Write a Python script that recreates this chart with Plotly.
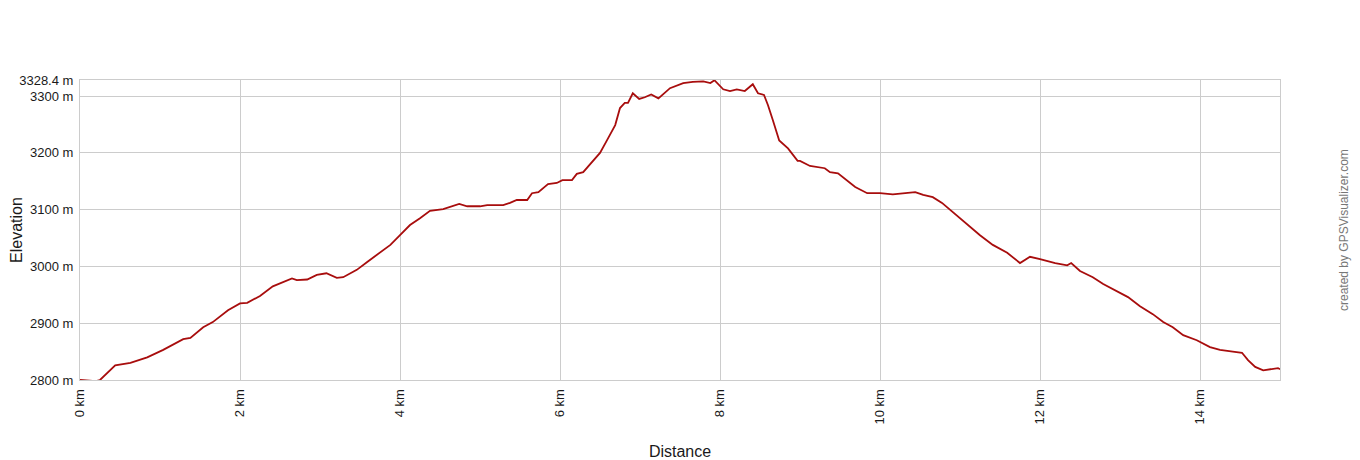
import plotly.graph_objects as go

distance_km = [
    0.0, 0.1, 0.2, 0.25, 0.44, 0.63, 0.84, 1.04, 1.29, 1.38, 1.54, 1.66, 1.85,
    2.0, 2.09, 2.25, 2.41, 2.65, 2.71, 2.84, 2.96, 3.08, 3.21, 3.29, 3.46,
    3.59, 3.66, 3.88, 4.0, 4.125, 4.25, 4.375, 4.54, 4.66, 4.74, 4.84, 5.0,
    5.09, 5.29, 5.375, 5.46, 5.59, 5.65, 5.73, 5.85, 5.96, 6.03, 6.15, 6.21,
    6.29, 6.4, 6.5, 6.59, 6.69, 6.75, 6.81, 6.85, 6.91, 6.99, 7.06, 7.14,
    7.23, 7.375, 7.54, 7.66, 7.73, 7.79, 7.88, 7.93, 8.04, 8.125, 8.21, 8.31,
    8.41, 8.475, 8.55, 8.6, 8.66, 8.74, 8.85, 8.97, 9.0, 9.125, 9.31, 9.375,
    9.475, 9.59, 9.69, 9.84, 10.0, 10.16, 10.34, 10.44, 10.54, 10.66, 10.775,
    10.91, 11.1, 11.25, 11.41, 11.59, 11.75, 11.875, 12.0, 12.19, 12.34,
    12.39, 12.5, 12.66, 12.79, 12.94, 13.1, 13.25, 13.41, 13.54, 13.66,
    13.79, 13.96, 14.125, 14.25, 14.41, 14.525, 14.6, 14.69, 14.79, 14.9,
    14.975, 15.0,
]
elevation_m = [
    2800, 2799, 2798, 2800, 2826, 2830, 2840, 2853, 2872, 2874, 2893, 2902,
    2923, 2935, 2936, 2948, 2965, 2979, 2976, 2977, 2985, 2988, 2980, 2981,
    2994, 3008, 3015, 3038, 3055, 3073, 3085, 3098, 3101, 3106, 3110, 3106,
    3106, 3108, 3108, 3112, 3117, 3117, 3129, 3131, 3145, 3147, 3152, 3152,
    3163, 3166, 3184, 3200, 3223, 3249, 3279, 3288, 3288, 3305, 3295, 3298,
    3303, 3296, 3314, 3323, 3325, 3326, 3326, 3323, 3328, 3312, 3309, 3312,
    3309, 3321, 3305, 3302, 3284, 3258, 3222, 3208, 3186, 3186, 3177, 3173,
    3166, 3164, 3152, 3140, 3129, 3129, 3127, 3129, 3131, 3126, 3122, 3112,
    3096, 3073, 3055, 3038, 3024, 3006, 3017, 3013, 3006, 3002, 3006, 2992,
    2981, 2969, 2958, 2946, 2930, 2916, 2902, 2893, 2879, 2870, 2858, 2853,
    2850, 2848, 2835, 2823, 2817, 2819, 2821, 2819,
]

y_tick_vals = [2800, 2900, 3000, 3100, 3200, 3300, 3328.4]
y_tick_text = ["2800 m", "2900 m", "3000 m", "3100 m", "3200 m", "3300 m", "3328.4 m"]
x_tick_vals = [0, 2, 4, 6, 8, 10, 12, 14]
x_tick_text = ["0 km", "2 km", "4 km", "6 km", "8 km", "10 km", "12 km", "14 km"]

FONT = "Liberation Sans, Arial, sans-serif"
GRID = "#cccccc"
TEXT = "#1a1a1a"

fig = go.Figure()
fig.add_trace(go.Scatter(
    x=distance_km, y=elevation_m, mode="lines",
    line=dict(color="#a80d0d", width=1.8),
    hoverinfo="x+y",
))

# The page body has an 8px default margin, so the figure is a bit smaller
fig.update_layout(
    width=1352, height=452,
    margin=dict(l=72, r=80, t=72, b=80),
    paper_bgcolor="white", plot_bgcolor="white",
    showlegend=False,
    font=dict(family=FONT, size=13, color=TEXT),
    xaxis=dict(
        range=[0, 15], tickvals=x_tick_vals, ticktext=x_tick_text,
        tickangle=-90, showgrid=True, gridcolor=GRID, gridwidth=1,
        showline=True, linecolor=GRID, linewidth=1, mirror=True,
        zeroline=False, ticks="", ticklabelstandoff=3, automargin=False,
        tickfont=dict(size=13, family=FONT, color=TEXT),
        title=dict(text="Distance", font=dict(size=16, family=FONT, color=TEXT), standoff=24),
    ),
    yaxis=dict(
        range=[2800, 3328.4], tickvals=y_tick_vals, ticktext=y_tick_text,
        showgrid=True, gridcolor=GRID, gridwidth=1,
        showline=True, linecolor=GRID, linewidth=1, mirror=True,
        zeroline=False, ticks="", ticklabelstandoff=3, automargin=False,
        tickfont=dict(size=13, family=FONT, color=TEXT),
        title=dict(text="Elevation", font=dict(size=16, family=FONT, color=TEXT), standoff=0),
    ),
    annotations=[dict(
        text="created by GPSVisualizer.com", textangle=-90,
        xref="paper", yref="paper", x=1.0, y=0.5, xshift=64,
        xanchor="center", yanchor="middle", showarrow=False,
        font=dict(size=12, family=FONT, color="#777777"),
    )],
)

fig.write_html("out.html")
